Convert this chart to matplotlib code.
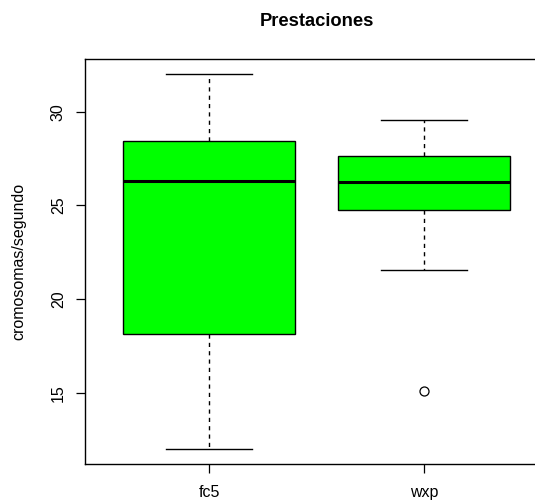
"""Boxplot of throughput (cromosomas/segundo) for two implementations."""

import matplotlib
matplotlib.use("Agg")
import matplotlib.pyplot as plt

plt.rcParams["font.family"] = ["Liberation Sans", "DejaVu Sans"]

# Five-number summaries per implementation
groups = ["fc5", "wxp"]
whisker_low = [12.0, 21.53]
q1 = [18.16, 24.73]
medians = [26.32, 26.24]
q3 = [28.45, 27.63]
whisker_high = [32.0, 29.55]
outliers = [[], [15.1]]

BOX_COLOR = "#00ff00"
FONT_SIZE = 11.5

stats = []
for i, name in enumerate(groups):
    stats.append({
        "label": name,
        "whislo": whisker_low[i],
        "q1": q1[i],
        "med": medians[i],
        "q3": q3[i],
        "whishi": whisker_high[i],
        "fliers": outliers[i],
    })

fig = plt.figure(figsize=(5.35, 5.01), dpi=100)
# right edge of the frame runs past the figure border
ax = fig.add_axes([0.1583, 0.0739, 0.867, 0.808])

ax.bxp(
    stats,
    positions=[1, 2],
    widths=0.8,
    patch_artist=True,
    showfliers=True,
    boxprops=dict(facecolor=BOX_COLOR, edgecolor="black", linewidth=1.0),
    whiskerprops=dict(color="black", linestyle=(0, (3, 3)), linewidth=1.0),
    capprops=dict(color="black", linewidth=1.0),
    capwidths=0.4,
    medianprops=dict(color="black", linewidth=2.2, solid_capstyle="butt"),
    flierprops=dict(marker="o", markerfacecolor="none", markeredgecolor="black",
                    markersize=6.5, markeredgewidth=0.9),
)

ax.set_xlim(0.42, 2.58)
ax.set_ylim(11.2, 32.8)
ax.set_yticks([15, 20, 25, 30])
ax.set_yticklabels(["15", "20", "25", "30"], rotation=90, va="center")
ax.set_xticks([1, 2])
ax.set_xticklabels(groups)
ax.tick_params(axis="both", direction="out", length=6.5, width=0.9,
               labelsize=FONT_SIZE)
ax.tick_params(axis="x", pad=8.5)
ax.tick_params(axis="y", pad=7)

for side in ("left", "bottom", "top", "right"):
    ax.spines[side].set_linewidth(1.0)

ax.set_ylabel("cromosomas/segundo", fontsize=FONT_SIZE)
ax.yaxis.set_label_coords(-0.1255, 0.5)
ax.set_title("Prestaciones", fontsize=13.2, fontweight="bold", pad=23.8)

fig.savefig("out.png", dpi=100)
